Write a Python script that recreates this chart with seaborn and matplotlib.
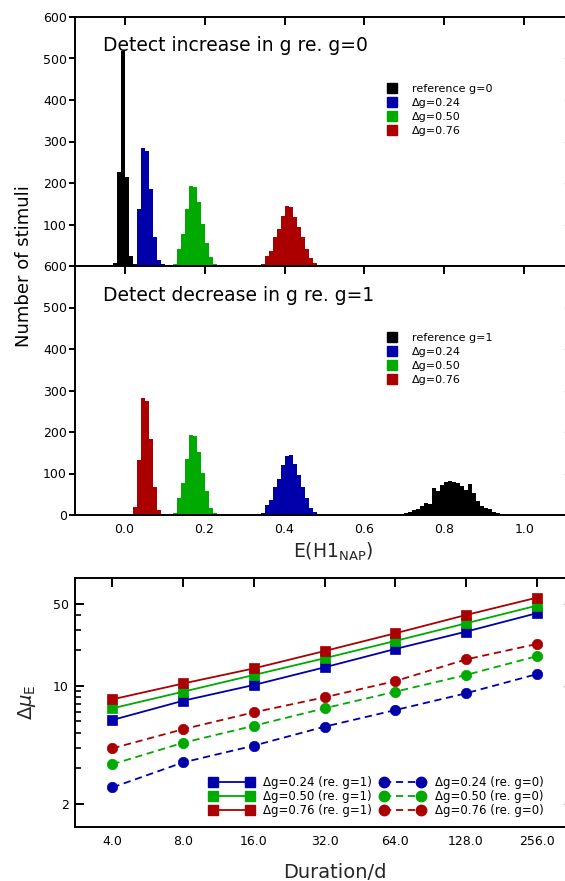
import numpy as np
import pandas as pd
import matplotlib
matplotlib.use("Agg")
import matplotlib.pyplot as plt
import seaborn as sns
from matplotlib.lines import Line2D

sns.set_theme(style="ticks")
plt.rcParams["font.family"] = ["DejaVu Sans"]
plt.rcParams["mathtext.default"] = "regular"
plt.rcParams["axes.edgecolor"] = "black"
plt.rcParams["xtick.color"] = "black"
plt.rcParams["ytick.color"] = "black"
plt.rcParams["text.color"] = "black"

BIN = 0.01

# Histogram counts per 0.01-wide bin; *_start is the left edge of the first bin
inc_ref_start = -0.03
inc_ref = [8, 227, 519, 214, 25]
inc_024_start = 0.02
inc_024 = [6, 137, 285, 278, 185, 69, 14, 5]
inc_050_start = 0.12
inc_050 = [5, 40, 77, 137, 193, 190, 155, 101, 56, 21, 6, 2]
inc_076_start = 0.34
inc_076 = [5, 24, 37, 69, 88, 120, 145, 143, 118, 95, 70, 42, 20, 8, 3, 1]

dec_ref_start = 0.69
dec_ref = [3, 5, 8, 12, 14, 22, 29, 26, 64, 58, 72, 80, 82, 80, 77, 70, 61, 74,
           54, 34, 22, 18, 14, 7, 4, 2, 1]
dec_024_start = 0.30
dec_024 = [1, 1, 1, 2, 4, 24, 37, 68, 87, 120, 142, 145, 122, 97, 68, 40, 18, 8, 3, 1, 1]
dec_050_start = 0.12
dec_050 = [4, 40, 77, 136, 192, 190, 153, 100, 57, 18, 5, 2, 1]
dec_076_start = 0.01
dec_076 = [1, 20, 133, 283, 275, 183, 67, 12, 3]

hist_xticks = [0.0, 0.2, 0.4, 0.6, 0.8, 1.0]
hist_xticklabels = ["0.0", "0.2", "0.4", "0.6", "0.8", "1.0"]
hist_yticks = [0, 100, 200, 300, 400, 500, 600]

inc_labels = ["reference g=0", "Δg=0.24", "Δg=0.50", "Δg=0.76"]
dec_labels = ["reference g=1", "Δg=0.24", "Δg=0.50", "Δg=0.76"]

# Threshold vs. stimulus duration
durations = [4, 8, 16, 32, 64, 128, 256]
dur_ticklabels = ["4.0", "8.0", "16.0", "32.0", "64.0", "128.0", "256.0"]
g1_024 = [5.15, 7.5, 10.2, 14.4, 20.6, 28.9, 41.4]
g1_050 = [6.47, 8.95, 12.4, 17.2, 24.1, 34.0, 48.0]
g1_076 = [7.71, 10.5, 14.1, 19.8, 28.0, 40.0, 56.1]
g0_024 = [1.38, 2.25, 3.12, 4.52, 6.25, 8.67, 12.6]
g0_050 = [2.17, 3.3, 4.6, 6.47, 8.95, 12.4, 17.9]
g0_076 = [2.96, 4.3, 5.98, 8.02, 11.0, 16.8, 22.7]
dur_labels = ["Δg=0.24 (re. g=1)", "Δg=0.50 (re. g=1)", "Δg=0.76 (re. g=1)",
              "Δg=0.24 (re. g=0)", "Δg=0.50 (re. g=0)", "Δg=0.76 (re. g=0)"]
mu_ticks = [1, 10, 50]
mu_ticklabels = ["2", "10", "50"]
mu_minor = [2, 3, 4, 5, 6, 7, 8, 9, 20, 30, 40]

BLACK, BLUE, GREEN, RED = "#000000", "#0000AA", "#00AA00", "#AA0000"

W, H = 565.0, 881.0
fig = plt.figure(figsize=(W / 100, H / 100), dpi=100)


def px_axes(left, top, right, bottom):
    return fig.add_axes([left / W, 1 - bottom / H, (right - left) / W, (bottom - top) / H])


def draw_hist(ax, start, counts, color):
    n = len(counts)
    edges = [round(start + BIN * i, 4) for i in range(n + 1)]
    df = pd.DataFrame({"value": [start + BIN * (i + 0.5) for i in range(n)],
                       "count": counts})
    sns.histplot(data=df, x="value", weights="count", bins=edges, element="step",
                 fill=True, color=color, alpha=1, linewidth=0, ax=ax)


def style_hist(ax, show_xlabels, ylabels):
    ax.set_xlim(-0.124, 1.119)
    ax.set_ylim(0, 600)
    ax.set_xticks(hist_xticks)
    ax.set_xticklabels(hist_xticklabels if show_xlabels else [""] * len(hist_xticks))
    ax.tick_params(axis="x", which="major", direction="in", top=True, bottom=False,
                   labeltop=False, labelbottom=show_xlabels, length=5.5, width=1.4,
                   pad=5.5, labelsize=9)
    ax.set_yticks(hist_yticks)
    ax.set_yticklabels(ylabels)
    ax.tick_params(axis="y", which="major", direction="out", left=True, right=False,
                   length=4.3, width=1.4, pad=1.5, labelsize=9)
    ax.minorticks_off()
    for s in ["left", "top", "bottom"]:
        ax.spines[s].set_linewidth(1.4)
    ax.spines["right"].set_visible(False)
    ax.set_xlabel("")
    ax.set_ylabel("")
    sec = ax.secondary_yaxis("right")
    sec.set_yticks(hist_yticks[1:-1])
    sec.tick_params(direction="in", length=5.5, width=1.0, color="#c8c8c8",
                    labelright=False)
    sec.spines["right"].set_visible(False)


def hist_legend(ax, labels, top_px):
    handles = [Line2D([], [], ls="none", marker="s", ms=7, color=c, mec=c)
               for c in (BLACK, BLUE, GREEN, RED)]
    ax.legend(handles, labels, loc="upper left",
              bbox_to_anchor=(386.5 / W, 1 - top_px / H), bbox_transform=fig.transFigure,
              frameon=False, fontsize=8, handlelength=1.0, handletextpad=1.3,
              borderpad=0, borderaxespad=0, labelspacing=0.36, numpoints=1)


# ---- increase panel ----
ax_inc = px_axes(75, 17, 572, 266)
draw_hist(ax_inc, inc_ref_start, inc_ref, BLACK)
draw_hist(ax_inc, inc_024_start, inc_024, BLUE)
draw_hist(ax_inc, inc_050_start, inc_050, GREEN)
draw_hist(ax_inc, inc_076_start, inc_076, RED)
style_hist(ax_inc, False, [""] + [str(v) for v in hist_yticks[1:]])
hist_legend(ax_inc, inc_labels, 83.5)
fig.text(103 / W, 1 - 50.7 / H, "Detect increase in g re. g=0", fontsize=13.5,
         ha="left", va="baseline")

# ---- decrease panel ----
ax_dec = px_axes(75, 266, 572, 515)
draw_hist(ax_dec, dec_ref_start, dec_ref, BLACK)
draw_hist(ax_dec, dec_024_start, dec_024, BLUE)
draw_hist(ax_dec, dec_050_start, dec_050, GREEN)
draw_hist(ax_dec, dec_076_start, dec_076, RED)
style_hist(ax_dec, True, [str(v) for v in hist_yticks])
hist_legend(ax_dec, dec_labels, 333)
fig.text(103 / W, 1 - 300.7 / H, "Detect decrease in g re. g=1", fontsize=13.5,
         ha="left", va="baseline")
ax_dec.set_xlabel("E(H1$_{NAP}$)", fontsize=13.5)
ax_dec.xaxis.set_label_coords((333 - 75) / 497, (515 - 552) / 249)
ax_dec.xaxis.label.set_va("center")

fig.text(24 / W, 1 - 266 / H, "Number of stimuli", rotation=90, fontsize=13,
         ha="center", va="center")

# ---- duration panel ----
ax_dur = px_axes(75, 577.5, 572, 827)
series = [
    (g1_024, BLUE, "s", "-"), (g1_050, GREEN, "s", "-"), (g1_076, RED, "s", "-"),
    (g0_024, BLUE, "o", (0, (4, 2.6))), (g0_050, GREEN, "o", (0, (4, 2.6))),
    (g0_076, RED, "o", (0, (4, 2.6))),
]
for vals, c, m, ls in series:
    sns.lineplot(x=durations, y=vals, color=c, marker=m, markersize=7.5, mec=c, mew=0.5,
                 linewidth=1.3, linestyle=ls, legend=False, ax=ax_dur)

ax_dur.set_xscale("log", base=2)
ax_dur.set_yscale("log")
ax_dur.set_xlim(2.77, 361.8)
ax_dur.set_ylim(0.637, 83.2)
ax_dur.set_xticks(durations)
ax_dur.set_xticklabels(dur_ticklabels)
ax_dur.xaxis.set_minor_locator(matplotlib.ticker.NullLocator())
ax_dur.tick_params(axis="x", which="major", direction="in", top=True, bottom=False,
                   labeltop=False, labelbottom=True, length=6.7, width=1.4, pad=6,
                   labelsize=9)
ax_dur.yaxis.set_major_locator(matplotlib.ticker.FixedLocator(mu_ticks))
ax_dur.yaxis.set_major_formatter(matplotlib.ticker.FixedFormatter(mu_ticklabels))
ax_dur.yaxis.set_minor_locator(matplotlib.ticker.FixedLocator(mu_minor))
ax_dur.yaxis.set_minor_formatter(matplotlib.ticker.NullFormatter())
ax_dur.tick_params(axis="y", which="major", direction="in", left=True, right=False,
                   length=6.5, width=1.4, pad=4.5, labelsize=9)
ax_dur.tick_params(axis="y", which="minor", direction="in", left=True, right=False,
                   length=4, width=1.2)
for s in ["left", "top", "bottom"]:
    ax_dur.spines[s].set_linewidth(1.4)
ax_dur.spines["right"].set_visible(False)
sec = ax_dur.secondary_yaxis("right")
sec.yaxis.set_major_locator(matplotlib.ticker.FixedLocator(mu_ticks))
sec.yaxis.set_minor_locator(matplotlib.ticker.NullLocator())
sec.tick_params(direction="in", length=6.5, width=1.0, color="#c8c8c8", labelright=False)
sec.spines["right"].set_visible(False)

ax_dur.set_xlabel("Duration/d", fontsize=14)
ax_dur.xaxis.set_label_coords((335 - 75) / 497, (827 - 873) / 249.5)
ax_dur.xaxis.label.set_va("center")
ax_dur.set_ylabel(r"$\Delta\mathit{\mu}_E$", fontsize=14)
ax_dur.yaxis.set_label_coords((27 - 75) / 497, 0.5)
ax_dur.yaxis.label.set_va("center")

handles = [Line2D([], [], color=c, marker=m, ms=7.5, mec=c, lw=1.3, ls=ls)
           for _, c, m, ls in series]
ax_dur.legend(handles, dur_labels, ncol=2, loc="lower right",
              bbox_to_anchor=(543.5 / W, 1 - 817 / H), bbox_transform=fig.transFigure,
              frameon=False, fontsize=8.5, numpoints=2, handlelength=3.73,
              handletextpad=0.83, columnspacing=0.75, labelspacing=0.1,
              borderpad=0, borderaxespad=0)

fig.savefig("out.png", dpi=100)
